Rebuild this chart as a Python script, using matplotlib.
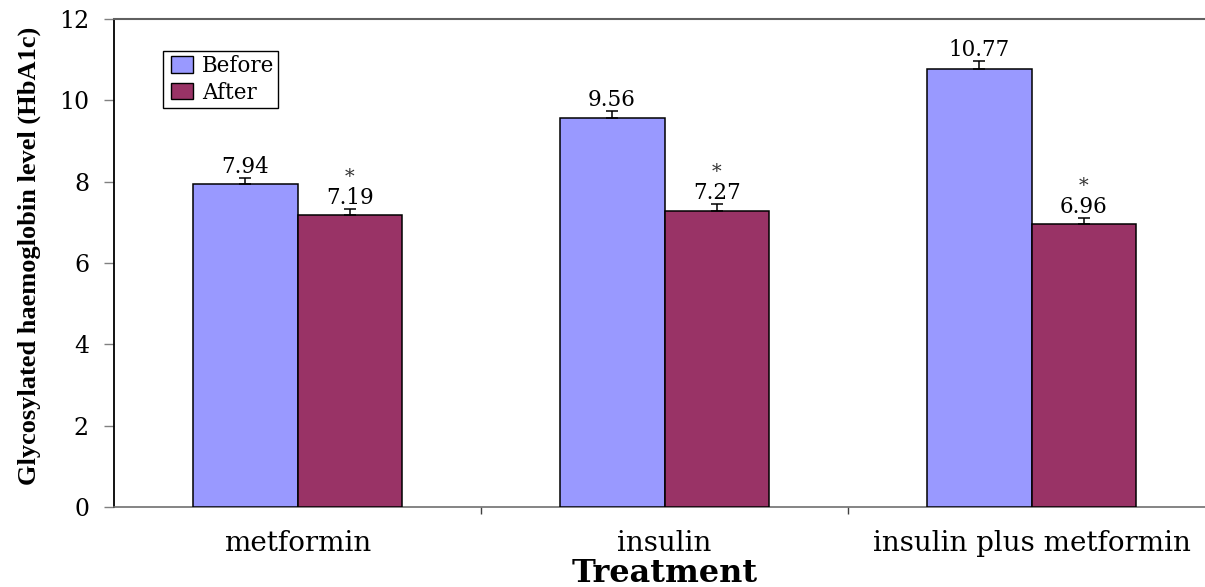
import matplotlib
matplotlib.use("Agg")
import matplotlib.pyplot as plt
import matplotlib.patches as mpatches
from matplotlib.legend_handler import HandlerPatch
import numpy as np

categories = ["metformin", "insulin", "insulin plus metformin"]
before = [7.94, 9.56, 10.77]
after = [7.19, 7.27, 6.96]
before_err = [0.15, 0.19, 0.20]
after_err = [0.14, 0.17, 0.15]
yticks = [0, 2, 4, 6, 8, 10, 12]

C_BEFORE = "#9999FF"
C_AFTER = "#993366"
SERIF = ["DejaVu Serif"]

W, H = 1205, 587
fig = plt.figure(figsize=(W / 100, H / 100), dpi=100)
ax = fig.add_axes([114 / W, 1 - 507 / H, 1101 / W, 488 / H])

x = np.arange(len(categories))
bw = 0.286
bars_b = ax.bar(x - bw / 2, before, bw, color=C_BEFORE, edgecolor="black", linewidth=1.1,
                yerr=[np.zeros(3), before_err], error_kw=dict(ecolor="black", elinewidth=1.1,
                                                            capsize=4, capthick=1.1), zorder=3)
bars_a = ax.bar(x + bw / 2, after, bw, color=C_AFTER, edgecolor="black", linewidth=1.1,
                yerr=[np.zeros(3), after_err], error_kw=dict(ecolor="black", elinewidth=1.1,
                                                           capsize=4, capthick=1.1), zorder=3)

for xi, v, e in zip(x - bw / 2, before, before_err):
    ax.annotate(f"{v:.2f}", (xi, v + e), xytext=(0, 3.6), textcoords="offset points",
                ha="center", va="baseline", fontsize=15.5, family=SERIF)
for xi, v, e in zip(x + bw / 2, after, after_err):
    ax.annotate(f"{v:.2f}", (xi, v + e), xytext=(0, 3.6), textcoords="offset points",
                ha="center", va="baseline", fontsize=15.5, family=SERIF)
    ax.annotate("*", (xi, v + e), xytext=(0, 19.5), textcoords="offset points",
                ha="center", va="baseline", fontsize=14, family=SERIF, color="#333333")

ax.set_xlim(-0.5, 2.5)
ax.set_ylim(0, 12)
ax.set_yticks(yticks)
ax.set_yticklabels([str(t) for t in yticks], family=SERIF, fontsize=17)
ax.set_xticks([0.5, 1.5], minor=False)
ax.set_xticklabels([])
ax.set_xticks(x, minor=True)
ax.set_xticklabels(categories, minor=True, family=SERIF, fontsize=20)
ax.tick_params(axis="x", which="major", direction="out", length=5, width=1, color="#404040")
ax.tick_params(axis="x", which="minor", length=0, pad=16.5)
ax.tick_params(axis="y", direction="out", length=7, width=1, color="#808080", pad=11)

ax.spines["left"].set_color("black")
ax.spines["left"].set_linewidth(1.3)
ax.spines["bottom"].set_color("#707070")
ax.spines["bottom"].set_linewidth(1.2)
ax.spines["top"].set_color("#606060")
ax.spines["top"].set_linewidth(1.5)
ax.spines["right"].set_visible(False)


def small_box(legend, orig_handle, xdescent, ydescent, width, height, fontsize):
    hw, hh = 16, 12
    return mpatches.Rectangle((-xdescent + width - hw, -ydescent + (height - hh) / 2), hw, hh)


handles = [mpatches.Patch(facecolor=C_BEFORE, edgecolor="black", linewidth=1.0),
           mpatches.Patch(facecolor=C_AFTER, edgecolor="black", linewidth=1.0)]
leg = ax.legend(handles, ["Before", "After"], loc="upper left",
                bbox_to_anchor=((163 - 114) / 1101, (507 - 51) / 488), borderaxespad=0,
                prop=dict(family=SERIF, size=15.5), fancybox=False, framealpha=1,
                edgecolor="black", borderpad=0.2, labelspacing=0.2,
                handlelength=1.2, handleheight=0.7, handletextpad=0.4,
                handler_map={mpatches.Patch: HandlerPatch(patch_func=small_box)})
leg.get_frame().set_linewidth(1.0)

fig.text(664.5 / W, 1 - 582 / H, "Treatment", ha="center", va="baseline",
         fontsize=23, fontweight="bold", family=SERIF)
fig.text(29 / W, 1 - 256 / H, "Glycosylated haemoglobin level (HbA1c)", rotation=90,
         ha="center", va="center", fontsize=19, fontweight="bold",
         family=["Liberation Serif", "DejaVu Serif"])

fig.savefig("out.png", dpi=100)
